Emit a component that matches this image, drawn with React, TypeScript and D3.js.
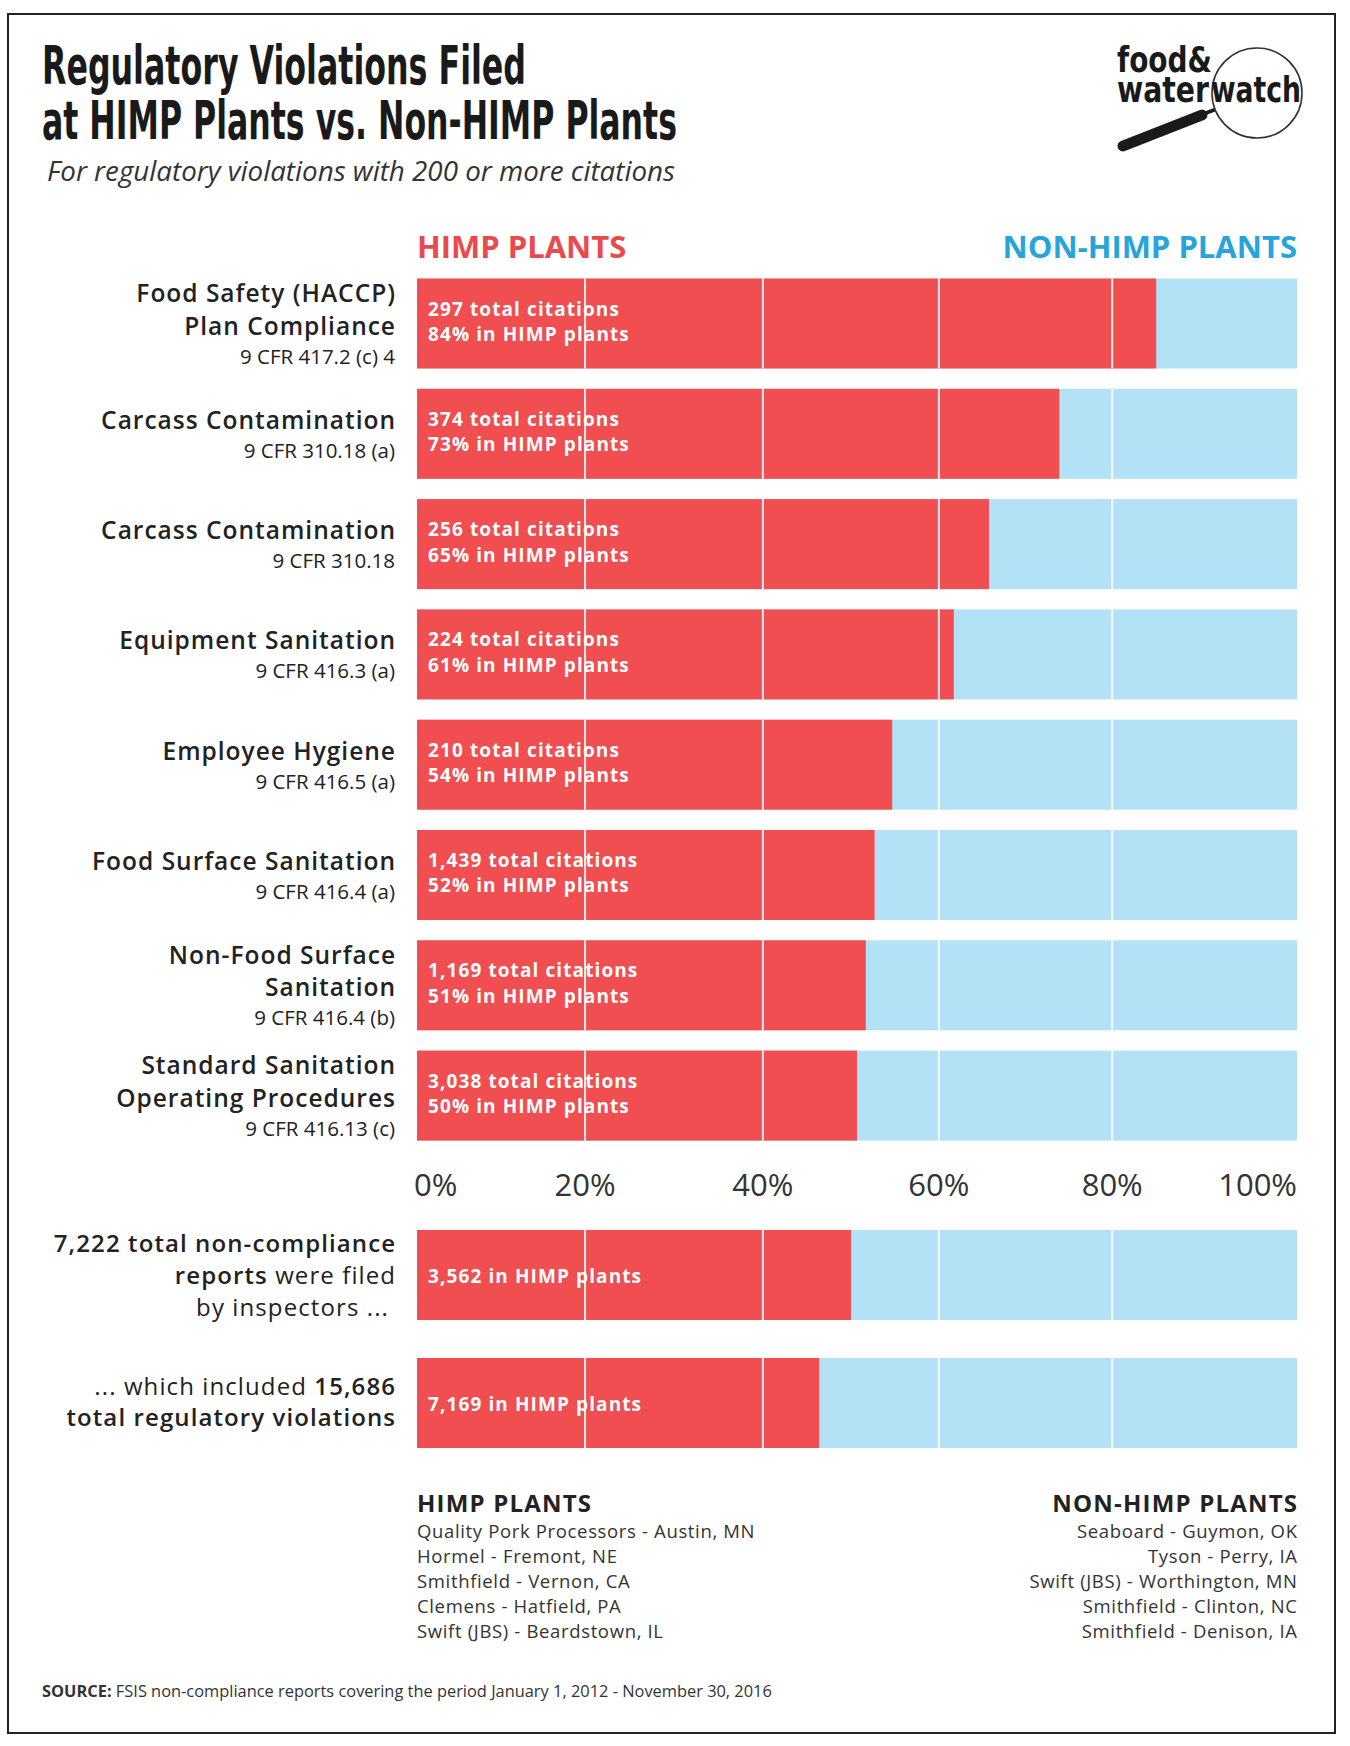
import React from "react";
import * as d3 from "d3";

// ---------- DATA ----------
const categories = [
  "Food Safety (HACCP) Plan Compliance",
  "Carcass Contamination (a)",
  "Carcass Contamination",
  "Equipment Sanitation",
  "Employee Hygiene",
  "Food Surface Sanitation",
  "Non-Food Surface Sanitation",
  "Standard Sanitation Operating Procedures",
];
const labelLines: string[][] = [
  ["Food Safety (HACCP)", "Plan Compliance"],
  ["Carcass Contamination"],
  ["Carcass Contamination"],
  ["Equipment Sanitation"],
  ["Employee Hygiene"],
  ["Food Surface Sanitation"],
  ["Non-Food Surface", "Sanitation"],
  ["Standard Sanitation", "Operating Procedures"],
];
const cfrCodes = [
  "9 CFR 417.2 (c) 4",
  "9 CFR 310.18 (a)",
  "9 CFR 310.18",
  "9 CFR 416.3 (a)",
  "9 CFR 416.5 (a)",
  "9 CFR 416.4 (a)",
  "9 CFR 416.4 (b)",
  "9 CFR 416.13 (c)",
];
const totalCitations = [297, 374, 256, 224, 210, 1439, 1169, 3038];
const himpShare = [84, 73, 65, 61, 54, 52, 51, 50];

const summaryKeys = ["reports", "violations"];
const summaryTotals = [7222, 15686];
const summaryHimp = [3562, 7169];

const tickLabels = ["0%", "20%", "40%", "60%", "80%", "100%"];
const tickValues = [0, 20, 40, 60, 80, 100];
const gridValues = [19.1, 39.3, 59.3, 79.0]; // gridline positions as drawn in the original

const himpPlants = [
  "Quality Pork Processors - Austin, MN",
  "Hormel - Fremont, NE",
  "Smithfield - Vernon, CA",
  "Clemens - Hatfield, PA",
  "Swift (JBS) - Beardstown, IL",
];
const nonHimpPlants = [
  "Seaboard - Guymon, OK",
  "Tyson - Perry, IA",
  "Swift (JBS) - Worthington, MN",
  "Smithfield - Clinton, NC",
  "Smithfield - Denison, IA",
];

// ---------- STYLE ----------
const RED = "#f04e50";
const BLUE = "#b3e1f5";
const RED_TXT = "#e84a4e";
const BLUE_TXT = "#27a5da";
const INK = "#222";
const SANS = "'Open Sans', 'Noto Sans', sans-serif";
const COND = "'Liberation Sans Narrow', 'DejaVu Sans Condensed', 'Roboto', sans-serif";

const LABEL_FS = 24.5;
const LABEL_LS = 1.0;
const SUM_FS = 24;
const SUM_LS = 1.1;
const CFR_FS = 20.5;
const BAR_FS = 19;
const BAR_LS = 1.1;
const LIST_FS = 18.5;
const LIST_LS = 0.65;

export default function App() {
  const W = 1350;
  const H = 1746;
  const x = d3.scaleLinear().domain([0, 100]).range([417, 1297]);
  const y = d3
    .scaleBand<string>()
    .domain(categories)
    .range([278.5, 1140.6])
    .paddingInner(0.184)
    .paddingOuter(0);
  const y2 = d3
    .scaleBand<string>()
    .domain(summaryKeys)
    .range([1230, 1448])
    .paddingInner(0.297)
    .paddingOuter(0);
  const fmt = d3.format(",");
  const bw = y.bandwidth();
  const bw2 = y2.bandwidth();
  const labelRight = 395;

  const gridFor = (top: number, h: number, key: string) =>
    gridValues.map((g, j) => (
      <line
        key={key + "g" + j}
        x1={x(g)}
        x2={x(g)}
        y1={top}
        y2={top + h}
        stroke="#fff"
        strokeWidth={2}
        opacity={0.9}
      />
    ));

  return (
    <svg
      width={W}
      height={H}
      viewBox={`0 0 ${W} ${H}`}
      style={{ position: "absolute", left: 0, top: 0, display: "block", background: "#fff" }}
    >
      <rect x={0} y={0} width={W} height={H} fill="#fff" />
      <rect x={8} y={14} width={1327} height={1719} fill="none" stroke={INK} strokeWidth={2} />

      {/* Title */}
      <text fontFamily={COND} fontWeight={700} fontSize={54} fill="#1a1a1a">
        <tspan x={42} y={84} textLength={484} lengthAdjust="spacingAndGlyphs">
          Regulatory Violations Filed
        </tspan>
        <tspan x={42} y={139} textLength={635} lengthAdjust="spacingAndGlyphs">
          at HIMP Plants vs. Non-HIMP Plants
        </tspan>
      </text>
      <text x={47} y={181} fontFamily={SANS} fontStyle="italic" fontSize={27} fill="#333"
        textLength={628} lengthAdjust="spacingAndGlyphs">
        For regulatory violations with 200 or more citations
      </text>

      {/* Logo */}
      <g>
        <line x1={1123} y1={146} x2={1202} y2={115} stroke="#1a1a1a" strokeWidth={11} strokeLinecap="round" />
        <line x1={1198} y1={116} x2={1222} y2={107} stroke="#1a1a1a" strokeWidth={4} />
        <circle cx={1257} cy={93} r={45} fill="#fff" stroke="#333" strokeWidth={1.6} />
        <text fontFamily={COND} fontWeight={700} fontSize={36} fill="#1a1a1a">
          <tspan x={1117} y={72} textLength={95} lengthAdjust="spacingAndGlyphs">food&amp;</tspan>
          <tspan x={1117} y={102} textLength={92} lengthAdjust="spacingAndGlyphs">water</tspan>
          <tspan x={1211} y={102} textLength={90} lengthAdjust="spacingAndGlyphs">watch</tspan>
        </text>
      </g>

      {/* Column headers */}
      <text x={x(0)} y={258} fontFamily={SANS} fontWeight={700} fontSize={31} fill={RED_TXT}>
        HIMP PLANTS
      </text>
      <text x={x(100)} y={258} textAnchor="end" fontFamily={SANS} fontWeight={700} fontSize={31} fill={BLUE_TXT}>
        NON-HIMP PLANTS
      </text>

      {/* Category bars */}
      {categories.map((c, i) => {
        const top = y(c)!;
        const share = himpShare[i];
        const lines = labelLines[i];
        const mid = top + bw / 2 + 9.5;
        const span = (lines.length - 1) * 32.3 + 29;
        const first = mid - span / 2;
        return (
          <g key={c}>
            <rect x={x(0)} y={top} width={x(100) - x(0)} height={bw} fill={BLUE} />
            <rect x={x(0)} y={top} width={x(share) - x(0)} height={bw} fill={RED} />
            {gridFor(top, bw, c)}
            <text x={x(0) + 11} y={top + 37} fontFamily={SANS} fontWeight={700} fontSize={BAR_FS}
              letterSpacing={BAR_LS} fill="#fff">
              {fmt(totalCitations[i])} total citations
            </text>
            <text x={x(0) + 11} y={top + 62.5} fontFamily={SANS} fontWeight={700} fontSize={BAR_FS}
              letterSpacing={BAR_LS} fill="#fff">
              {share}% in HIMP plants
            </text>
            {lines.map((l, k) => (
              <text key={k} x={labelRight + LABEL_LS} y={first + k * 32.3} textAnchor="end" fontFamily={SANS}
                fontWeight={600} fontSize={LABEL_FS} letterSpacing={LABEL_LS} fill={INK}>
                {l}
              </text>
            ))}
            <text x={labelRight} y={first + (lines.length - 1) * 32.3 + 29} textAnchor="end"
              fontFamily={SANS} fontSize={CFR_FS} fill={INK}>
              {cfrCodes[i]}
            </text>
          </g>
        );
      })}

      {/* Axis tick labels */}
      {tickLabels.map((t, i) => {
        const v = i === 0 || i === tickLabels.length - 1 ? tickValues[i] : gridValues[i - 1];
        const anchor = i === 0 ? "start" : i === tickLabels.length - 1 ? "end" : "middle";
        return (
          <text key={t} x={x(v) + (i === 0 ? -3 : 0)} y={1196} textAnchor={anchor} fontFamily={SANS} fontSize={31} fill="#333">
            {t}
          </text>
        );
      })}

      {/* Summary bars */}
      {summaryKeys.map((k, i) => {
        const top = y2(k)!;
        const pct = (summaryHimp[i] / summaryTotals[i]) * 100;
        return (
          <g key={k}>
            <rect x={x(0)} y={top} width={x(100) - x(0)} height={bw2} fill={BLUE} />
            <rect x={x(0)} y={top} width={x(pct) - x(0)} height={bw2} fill={RED} />
            {gridFor(top, bw2, k)}
            <text x={x(0) + 11} y={top + bw2 / 2 + 8} fontFamily={SANS} fontWeight={700} fontSize={BAR_FS}
              letterSpacing={BAR_LS} fill="#fff">
              {fmt(summaryHimp[i])} in HIMP plants
            </text>
          </g>
        );
      })}

      {/* Summary labels */}
      {(() => {
        const c1 = y2("reports")! + bw2 / 2;
        const c2 = y2("violations")! + bw2 / 2;
        const common = {
          textAnchor: "end" as const,
          fontFamily: SANS,
          fontSize: SUM_FS,
          letterSpacing: SUM_LS,
          fill: INK,
        };
        return (
          <g>
            <text x={labelRight + SUM_LS} y={c1 - 23.2} {...common} fontWeight={600}>
              {fmt(summaryTotals[0])} total non-compliance
            </text>
            <text x={labelRight + SUM_LS} y={c1 + 8.6} {...common}>
              <tspan fontWeight={600}>reports</tspan>
              <tspan fontWeight={400}> were filed</tspan>
            </text>
            <text x={labelRight - 6} y={c1 + 40.9} {...common} fontWeight={400}>
              by inspectors ...
            </text>
            <text x={labelRight + SUM_LS} y={c2 - 8.4} {...common}>
              <tspan fontWeight={400}>... which included </tspan>
              <tspan fontWeight={600}>{fmt(summaryTotals[1])}</tspan>
            </text>
            <text x={labelRight + SUM_LS} y={c2 + 23.2} {...common} fontWeight={600}>
              total regulatory violations
            </text>
          </g>
        );
      })()}

      {/* Plant lists */}
      <text x={x(0)} y={1512} fontFamily={SANS} fontWeight={700} fontSize={24} letterSpacing={1.2} fill={INK}>
        HIMP PLANTS
      </text>
      {himpPlants.map((p, i) => (
        <text key={p} x={x(0)} y={1538.3 + i * 24.8} fontFamily={SANS} fontSize={LIST_FS}
          letterSpacing={LIST_LS} fill="#333">
          {p}
        </text>
      ))}
      <text x={x(100) + 1.2} y={1512} textAnchor="end" fontFamily={SANS} fontWeight={700} fontSize={24}
        letterSpacing={1.2} fill={INK}>
        NON-HIMP PLANTS
      </text>
      {nonHimpPlants.map((p, i) => (
        <text key={p} x={x(100) + LIST_LS} y={1538.3 + i * 24.8} textAnchor="end" fontFamily={SANS}
          fontSize={LIST_FS} letterSpacing={LIST_LS} fill="#333">
          {p}
        </text>
      ))}

      {/* Source */}
      <text x={42} y={1697} fontFamily={SANS} fontSize={16.4} fill="#333">
        <tspan fontWeight={700}>SOURCE:</tspan>
        <tspan> FSIS non-compliance reports covering the period January 1, 2012 - November 30, 2016</tspan>
      </text>
    </svg>
  );
}
